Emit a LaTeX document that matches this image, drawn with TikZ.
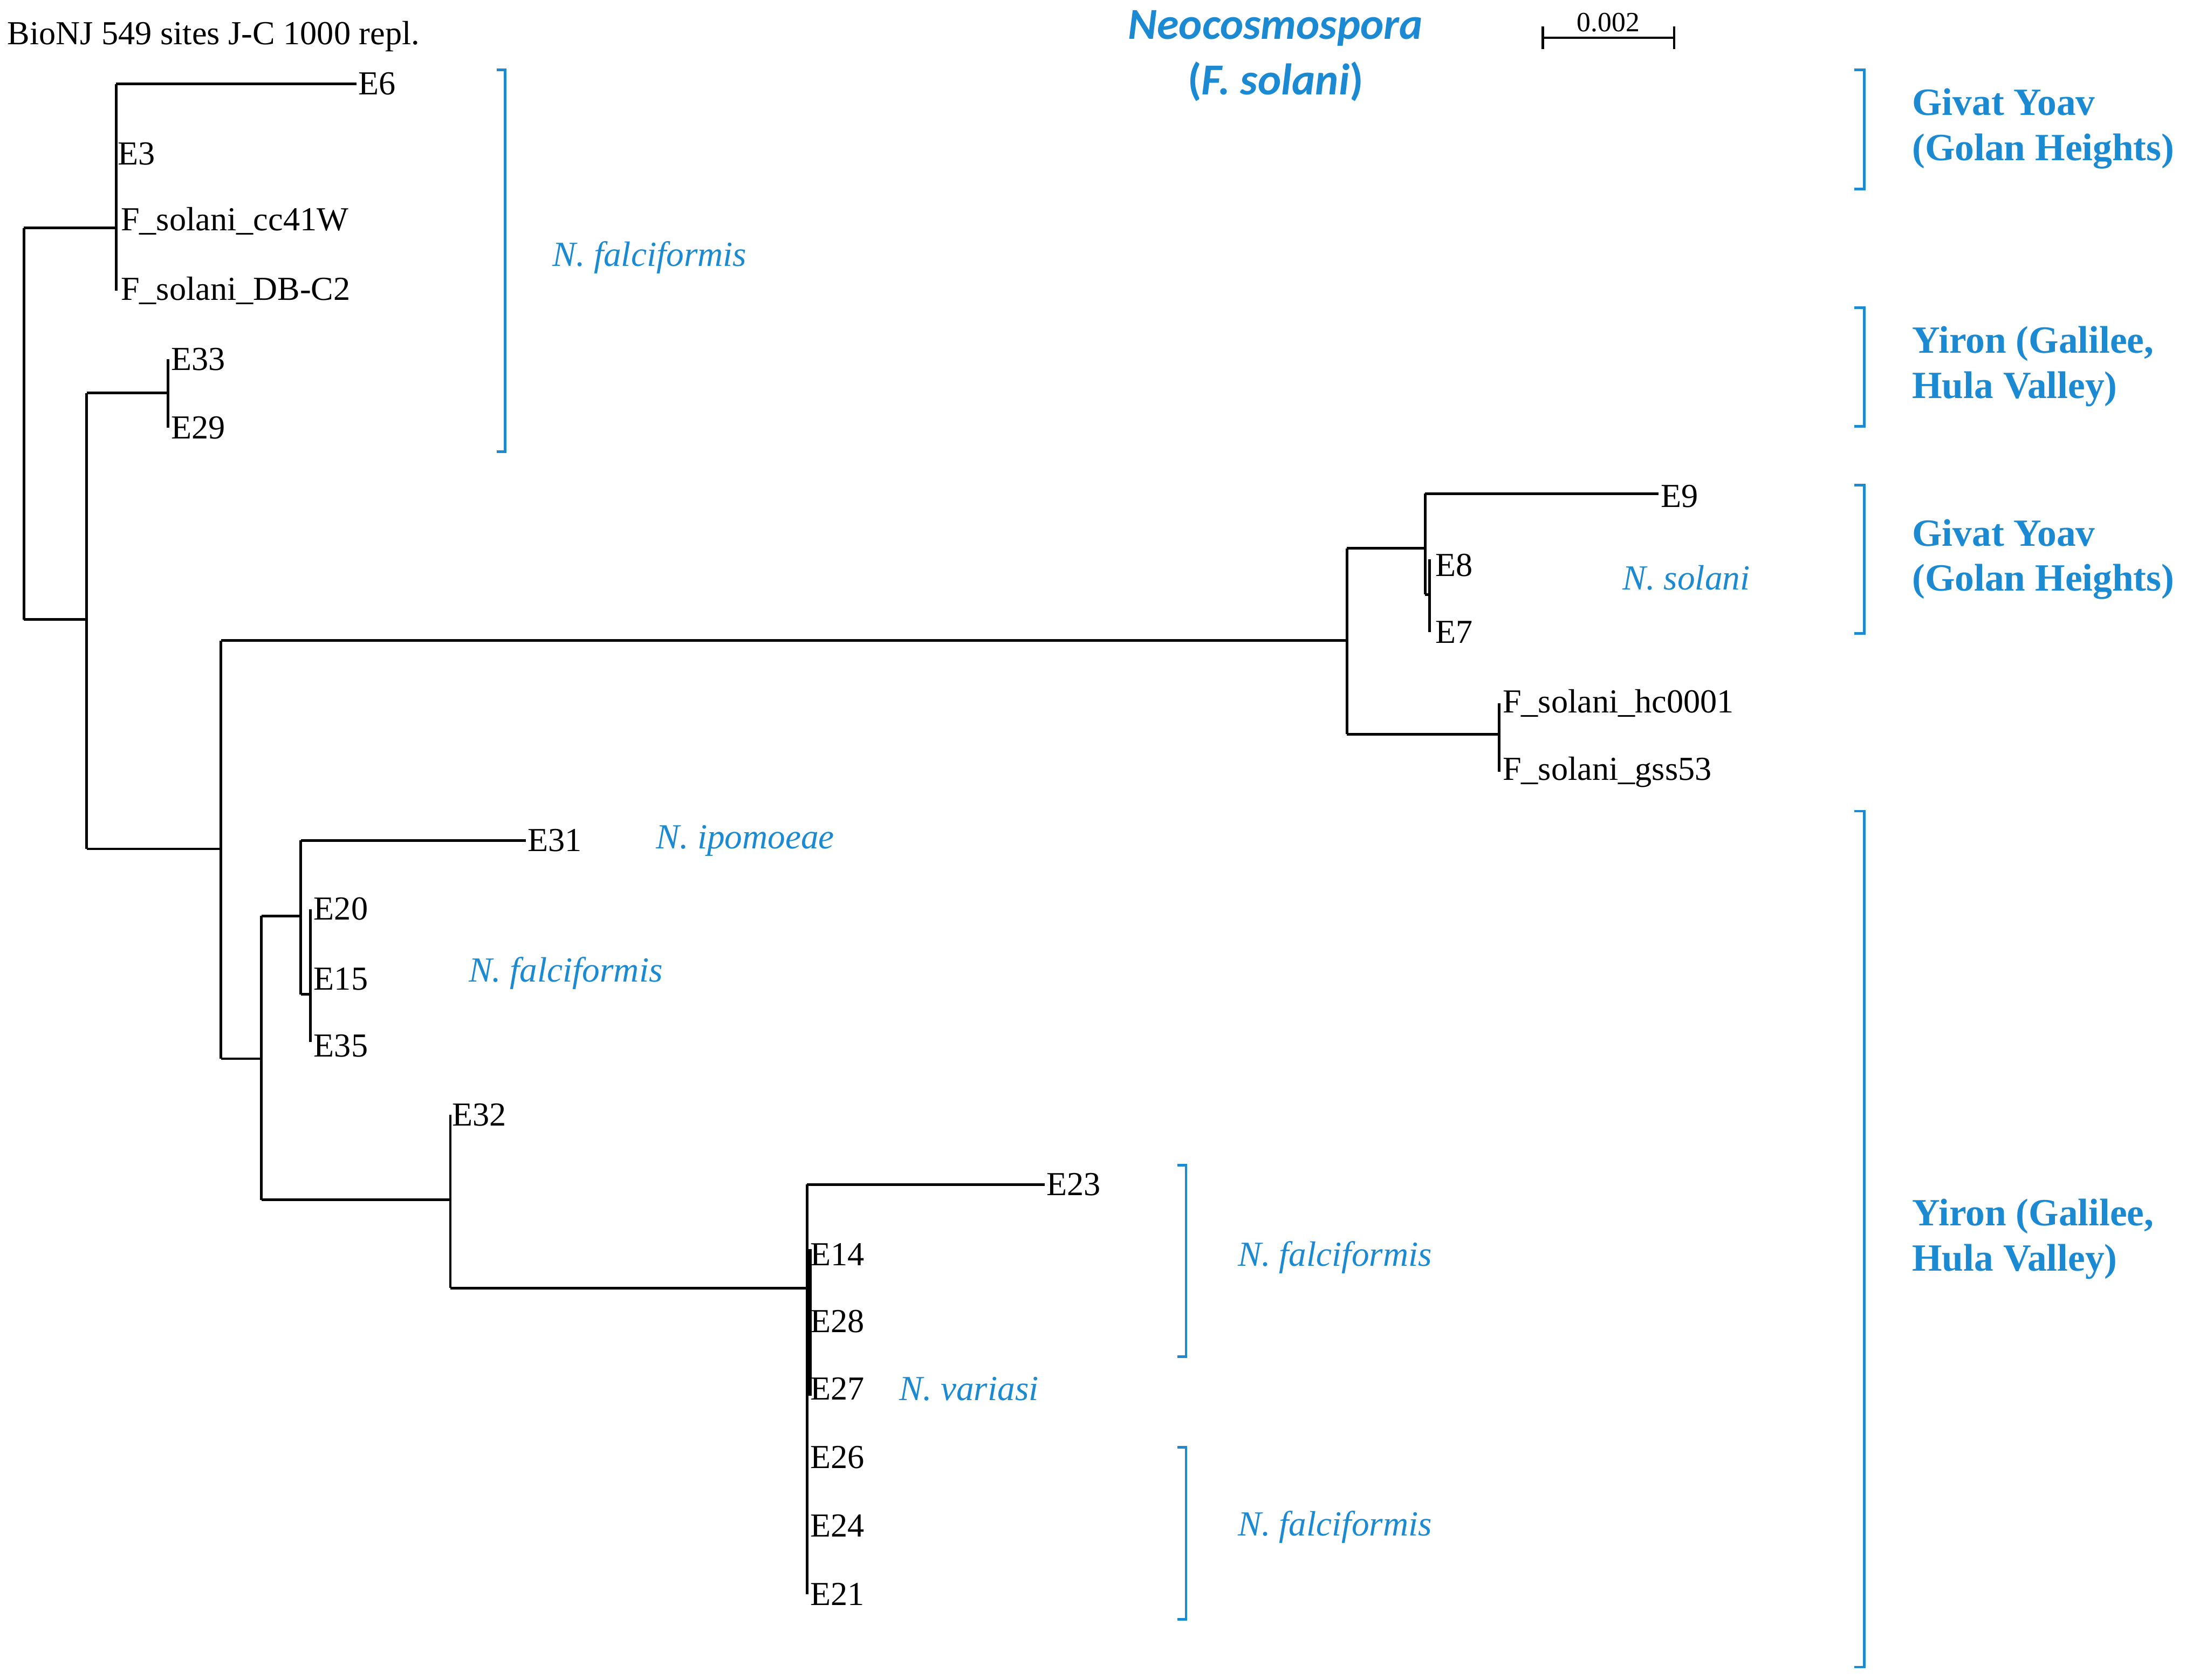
\documentclass[tikz,border=0pt]{standalone}
\usepackage{fontspec}
\setmainfont{Liberation Serif}
\newfontfamily\carl{Carlito}
\definecolor{cblue}{RGB}{27,138,210}
\begin{document}
\begin{tikzpicture}[x=0.03cm,y=-0.03cm,
 br/.style={line width=1.6pt,black},
 lf/.style={anchor=west,inner sep=1pt,font=\fontsize{20.5}{20.5}\selectfont},
 sp/.style={anchor=west,inner sep=0pt,text=cblue,font=\fontsize{21.5}{21.5}\selectfont\itshape},
 loc/.style={anchor=west,align=left,inner sep=0pt,text=cblue,font=\fontsize{23.5}{27.5}\selectfont\bfseries},
 bk/.style={line width=1.6pt,cblue}]
\useasboundingbox (0,0) rectangle (1563,1201);
% internal nodes
\coordinate (r1) at (17,163); \coordinate (r2) at (17,443);
\coordinate (a1) at (83,60); \coordinate (a2) at (83,208);
\coordinate (b1) at (62,281); \coordinate (b2) at (62,607);
\coordinate (c1) at (120,257); \coordinate (c2) at (120,306);
\coordinate (d1) at (158,458); \coordinate (d2) at (158,757);
\coordinate (e1) at (963,392); \coordinate (e2) at (963,525);
\coordinate (f1) at (1019,353); \coordinate (f2) at (1019,425);
\coordinate (g1) at (1022,400); \coordinate (g2) at (1022,452);
\coordinate (h1) at (1072,503); \coordinate (h2) at (1072,552);
\coordinate (i1) at (187,655); \coordinate (i2) at (187,858);
\coordinate (j1) at (215,601); \coordinate (j2) at (215,711);
\coordinate (k1) at (222,650); \coordinate (k2) at (222,745);
\coordinate (l1) at (322,797); \coordinate (l2) at (322,921);
\coordinate (m1) at (577,847); \coordinate (m2) at (577,1140);
% leaves
\node[lf] (E6) at (255,60) {E6};
\node[lf] (E3) at (83,110) {E3};
\node[lf] (cc) at (85,158) {F\_solani\_cc41W};
\node[lf] (db) at (85,208) {F\_solani\_DB-C2};
\node[lf] (E33) at (121,257) {E33};
\node[lf] (E29) at (121,306) {E29};
\node[lf] (E9) at (1186,355) {E9};
\node[lf] (E8) at (1025,404) {E8};
\node[lf] (E7) at (1025,452) {E7};
\node[lf] (hc) at (1073,503) {F\_solani\_hc0001};
\node[lf] (gs) at (1073,552) {F\_solani\_gss53};
\node[lf] (E31) at (376,601) {E31};
\node[lf] (E20) at (223,650) {E20};
\node[lf] (E15) at (223,700) {E15};
\node[lf] (E35) at (223,748) {E35};
\node[lf] (E32) at (322,797) {E32};
\node[lf] (E23) at (747,847) {E23};
\foreach \n/\y in {E14/897,E28/945,E27/993,E26/1042,E24/1091,E21/1140}
  \node[lf] (\n) at (578,\y) {\n};
% branches
\draw[br] (r1)--(r2); \draw[br] (r1)--(a1|-r1); \draw[br] (r2)--(b1|-r2);
\draw[br] (a1)--(a2); \draw[br] (a1)--(a1-|E6.west);
\draw[br] (b1)--(b2); \draw[br] (b1)--(c1|-b1); \draw[br] (c1)--(c2);
\draw[br] (b2)--(d1|-b2); \draw[br] (d1)--(d2);
\draw[br] (d1)--(e1|-d1); \draw[br] (e1)--(e2);
\draw[br] (e1)--(f1|-e1); \draw[br] (f1)--(f2); \draw[br] (f1)--(f1-|E9.west);
\draw[br] (f2)--(g1|-f2); \draw[br] (g1)--(g2);
\draw[br] (e2)--(h1|-e2); \draw[br] (h1)--(h2);
\draw[br] (d2)--(i1|-d2); \draw[br] (i1)--(i2);
\draw[br] (i1)--(j1|-i1); \draw[br] (j1)--(j2); \draw[br] (j1)--(j1-|E31.west);
\draw[br] (j2)--(k1|-j2); \draw[br] (k1)--(k2);
\draw[br] (i2)--(l1|-i2); \draw[br] (l1)--(l2);
\draw[br] (l2)--(m1|-l2); \draw[br] (m1)--(m2); \draw[br] (m1)--(m1-|E23.west);
\draw[line width=2.6pt] (579,893)--(579,998);
% scale bar
\coordinate (s1) at (1103,27); \coordinate (s2) at (1197,27);
\draw[br] (s1)--(s2); \draw[br] (1103,19)--(1103,35); \draw[br] (1197,19)--(1197,35);
\node[font=\fontsize{17}{17}\selectfont,inner sep=0pt] (sc) at (1150,16) {0.002};
\node[anchor=west,inner sep=0pt,font=\fontsize{20.5}{20.5}\selectfont] (ti) at (5,26) {BioNJ 549 sites J-C 1000 repl.};
\node[align=center,text=cblue,font=\carl\fontsize{27}{34}\selectfont\bfseries\itshape,inner sep=0pt] (neo) at (912,40) {Neocosmospora\\\upshape(\itshape F. solani\upshape)};
% species labels and brackets
\draw[bk] (355,50)--(361,50)--(361,323)--(355,323);
\node[sp] (s1l) at (395,184) {N. falciformis};
\node[sp] (s2l) at (1160,413) {N. solani};
\node[sp] (s3l) at (469,601) {N. ipomoeae};
\node[sp] (s4l) at (335,696) {N. falciformis};
\draw[bk] (842,833)--(848,833)--(848,970)--(842,970);
\node[sp] (s5l) at (885,899) {N. falciformis};
\node[sp] (s6l) at (643,993) {N. variasi};
\draw[bk] (842,1035)--(848,1035)--(848,1158)--(842,1158);
\node[sp] (s7l) at (885,1092) {N. falciformis};
% locations
\foreach \a/\b in {50/135,220/305,347/453,580/1192}
  \draw[bk] (1326,\a)--(1333,\a)--(1333,\b)--(1326,\b);
\node[loc] (L1) at (1367,92) {Givat Yoav\\(Golan Heights)};
\node[loc] (L2) at (1367,262) {Yiron (Galilee,\\Hula Valley)};
\node[loc] (L3) at (1367,400) {Givat Yoav\\(Golan Heights)};
\node[loc] (L4) at (1367,886) {Yiron (Galilee,\\Hula Valley)};
\end{tikzpicture}
\end{document}
